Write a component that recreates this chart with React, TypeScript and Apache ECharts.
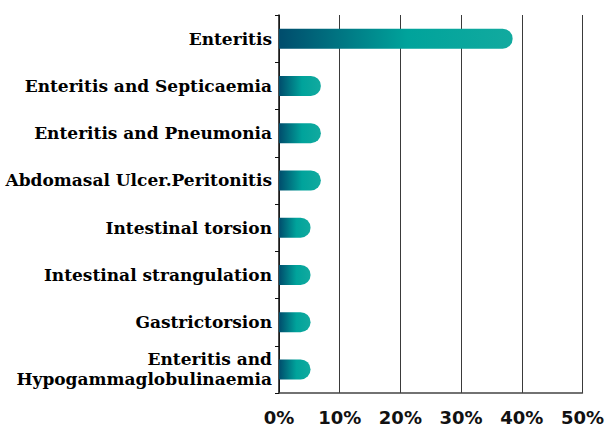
import React, { useEffect, useRef } from "react";
import * as echarts from "echarts";

const categories = [
  "Enteritis",
  "Enteritis and Septicaemia",
  "Enteritis and Pneumonia",
  "Abdomasal Ulcer.Peritonitis",
  "Intestinal torsion",
  "Intestinal strangulation",
  "Gastrictorsion",
  "Enteritis and\nHypogammaglobulinaemia",
];
const values = [38.5, 6.9, 6.9, 6.9, 5.2, 5.2, 5.2, 5.2];
const xTicks = [0, 10, 20, 30, 40, 50];

export default function App() {
  const ref = useRef<HTMLDivElement>(null);
  useEffect(() => {
    if (!ref.current) return;
    const chart = echarts.init(ref.current, null, { renderer: "svg" });
    const grad = new echarts.graphic.LinearGradient(0, 0, 1, 0, [
      { offset: 0, color: "#004c6c" },
      { offset: 0.55, color: "#00a39b" },
      { offset: 1, color: "#12aa9f" },
    ]);
    chart.setOption({
      animation: false,
      grid: { left: 279, right: 22, top: 15, bottom: 35 },
      xAxis: {
        type: "value",
        min: xTicks[0],
        max: xTicks[xTicks.length - 1],
        interval: 10,
        axisLine: { show: true, lineStyle: { color: "#444", width: 1.5 } },
        axisTick: { show: false },
        splitLine: { show: true, lineStyle: { color: "#3a3a3a", width: 1 } },
        axisLabel: {
          formatter: (v: number) => v + "%",
          fontFamily: "DejaVu Sans",
          fontWeight: "bold",
          fontSize: 18,
          color: "#111",
          margin: 15,
        },
      },
      yAxis: {
        type: "category",
        inverse: true,
        data: categories,
        axisLine: { show: true, lineStyle: { color: "#111", width: 1.5 } },
        axisTick: { show: true, length: 4, alignWithLabel: false, lineStyle: { color: "#111" } },
        axisLabel: {
          fontFamily: "DejaVu Serif",
          fontWeight: "bold",
          fontSize: 17,
          color: "#000",
          margin: 7,
          lineHeight: 20,
          align: "right",
        },
      },
      series: [
        {
          type: "bar",
          data: values,
          barWidth: 20,
          itemStyle: { color: grad, borderRadius: [0, 10, 10, 0] },
        },
      ],
    });
    return () => chart.dispose();
  }, []);
  return (
    <div
      ref={ref}
      style={{ position: "absolute", left: 0, top: 0, width: 607, height: 428 }}
    />
  );
}
